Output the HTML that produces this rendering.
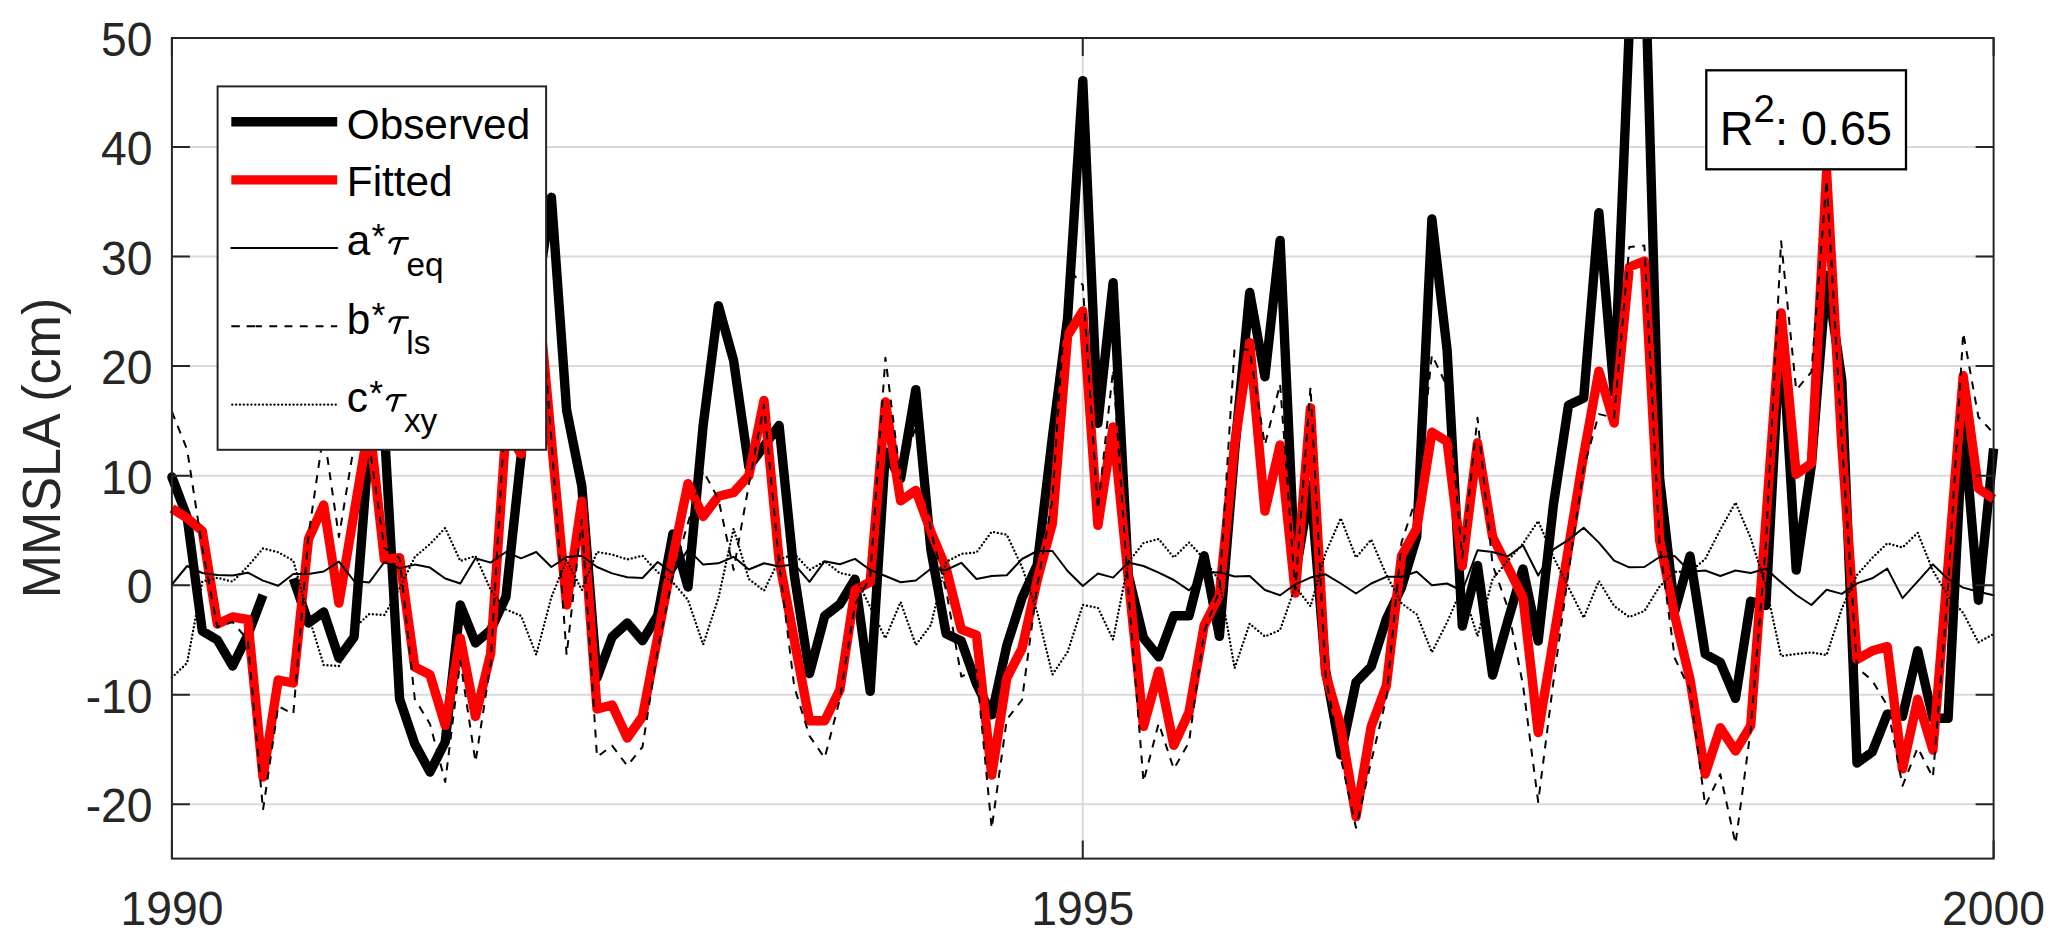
<!DOCTYPE html><html><head><meta charset="utf-8"><style>html,body{margin:0;padding:0;background:#fff;width:2067px;height:949px;overflow:hidden;position:relative}</style></head><body><svg width="2067" height="949" viewBox="0 0 2067 949" style="position:absolute;left:0;top:0"><rect x="0" y="0" width="2067" height="949" fill="#fff"/><path d="M171.9 804.34H1993.6 M171.9 694.77H1993.6 M171.9 585.20H1993.6 M171.9 475.63H1993.6 M171.9 366.06H1993.6 M171.9 256.49H1993.6 M171.9 146.92H1993.6 M1082.75 38.0V858.6" stroke="#dadada" stroke-width="2" fill="none"/><defs><clipPath id="cp"><rect x="163.9" y="38.0" width="1837.6999999999998" height="828.6"/></clipPath></defs><g clip-path="url(#cp)" fill="none" stroke-linejoin="round"><path d="M171.9 477.0 L187.1 517.0 L202.3 631.0 L217.4 640.0 L232.6 666.0 L247.8 635.0 L263.0 595.0 M293.3 578.5 L308.5 623.0 L323.7 612.0 L338.9 658.0 L354.1 637.0 L369.3 440.0 L384.4 430.0 L399.6 699.0 L414.8 744.0 L430.0 772.0 L445.2 742.0 L460.3 605.0 L475.5 643.0 L490.7 630.0 L505.9 597.0 L521.1 456.0 L536.2 300.0 L551.4 197.3 L566.6 410.0 L581.8 486.0 L597.0 678.0 L612.1 637.0 L627.3 623.0 L642.5 640.7 L657.7 615.4 L672.9 534.0 L688.0 587.0 L703.2 425.0 L718.4 305.8 L733.6 360.6 L748.8 466.8 L764.0 446.0 L779.1 425.5 L794.3 575.0 L809.5 673.6 L824.7 616.0 L839.9 604.2 L855.0 579.2 L870.2 691.3 L885.4 452.0 L900.6 478.6 L915.8 389.6 L930.9 550.0 L946.1 633.7 L961.3 641.1 L976.5 683.9 L991.7 714.9 L1006.8 645.5 L1022.0 598.0 L1037.2 565.0 L1052.4 437.0 L1067.6 318.0 L1082.8 80.6 L1097.9 423.3 L1113.1 282.7 L1128.3 575.0 L1143.5 638.0 L1158.7 656.9 L1173.8 615.8 L1189.0 615.8 L1204.2 555.8 L1219.4 636.4 L1234.6 452.0 L1249.7 292.5 L1264.9 376.7 L1280.1 240.5 L1295.3 575.0 L1310.5 485.0 L1325.6 670.0 L1340.8 755.0 L1356.0 682.3 L1371.2 666.5 L1386.4 619.0 L1401.5 587.4 L1416.7 537.0 L1431.9 219.0 L1447.1 350.0 L1462.3 626.0 L1477.5 565.5 L1492.6 675.0 L1507.8 621.0 L1523.0 568.9 L1538.2 641.0 L1553.4 505.0 L1568.5 405.2 L1583.7 398.0 L1598.9 212.8 L1614.1 392.6 L1629.3 28.0 L1644.4 -60.0 L1659.6 478.0 L1674.8 611.0 L1690.0 556.0 L1705.2 654.0 L1720.3 662.4 L1735.5 698.3 L1750.7 601.3 L1765.9 605.5 L1781.1 320.0 L1796.2 570.0 L1811.4 465.2 L1826.6 275.4 L1841.8 380.0 L1857.0 763.0 L1872.2 752.0 L1887.3 714.1 L1902.5 716.2 L1917.7 650.8 L1932.9 718.3 L1948.1 718.3 L1963.2 420.0 L1978.4 600.2 L1993.6 448.5" stroke="#000" stroke-width="9.4" stroke-linecap="butt"/><circle cx="171.9" cy="477" r="4.7" fill="#000"/><path d="M171.9 508.5 L187.1 518.0 L202.3 531.0 L217.4 624.0 L232.6 617.0 L247.8 619.5 L263.0 777.0 L278.2 680.0 L293.3 683.0 L308.5 539.0 L323.7 505.0 L338.9 603.0 L354.1 513.0 L369.3 423.0 L384.4 559.6 L399.6 557.7 L414.8 667.0 L430.0 674.8 L445.2 725.4 L460.3 638.2 L475.5 716.5 L490.7 653.3 L505.9 430.0 L521.1 454.0 L536.2 275.0 L551.4 440.0 L566.6 605.0 L581.8 501.4 L597.0 709.0 L612.1 705.0 L627.3 738.0 L642.5 716.5 L657.7 637.0 L672.9 557.0 L688.0 483.7 L703.2 516.5 L718.4 496.3 L733.6 492.5 L748.8 475.7 L764.0 400.5 L779.1 560.0 L794.3 640.0 L809.5 720.8 L824.7 720.8 L839.9 689.8 L855.0 590.0 L870.2 582.0 L885.4 402.0 L900.6 500.8 L915.8 490.4 L930.9 531.7 L946.1 568.0 L961.3 629.3 L976.5 635.2 L991.7 775.0 L1006.8 678.0 L1022.0 648.5 L1037.2 580.0 L1052.4 523.3 L1067.6 335.5 L1082.8 311.0 L1097.9 525.4 L1113.1 426.9 L1128.3 578.0 L1143.5 726.4 L1158.7 671.1 L1173.8 745.4 L1189.0 712.2 L1204.2 625.3 L1219.4 595.3 L1234.6 444.8 L1249.7 342.7 L1264.9 511.1 L1280.1 445.0 L1295.3 593.0 L1310.5 408.0 L1325.6 674.0 L1340.8 726.6 L1356.0 816.7 L1371.2 726.6 L1386.4 685.5 L1401.5 556.0 L1416.7 528.4 L1431.9 432.2 L1447.1 441.4 L1462.3 566.0 L1477.5 442.8 L1492.6 537.0 L1507.8 567.0 L1523.0 597.5 L1538.2 732.5 L1553.4 640.0 L1568.5 548.0 L1583.7 455.0 L1598.9 371.1 L1614.1 423.0 L1629.3 267.0 L1644.4 261.0 L1659.6 540.0 L1674.8 616.0 L1690.0 679.3 L1705.2 774.0 L1720.3 727.8 L1735.5 751.0 L1750.7 725.7 L1765.9 520.0 L1781.1 312.9 L1796.2 474.2 L1811.4 463.4 L1826.6 172.0 L1841.8 445.0 L1857.0 659.3 L1872.2 650.8 L1887.3 646.6 L1902.5 768.9 L1917.7 699.3 L1932.9 750.0 L1948.1 565.0 L1963.2 375.8 L1978.4 488.5 L1993.6 499.0" stroke="#f00" stroke-width="9.4" stroke-linecap="butt"/><path d="M171.9 584.5 L187.1 566.0 L202.3 573.0 L217.4 575.0 L232.6 575.5 L247.8 572.7 L263.0 580.6 L278.2 585.8 L293.3 574.0 L308.5 574.0 L323.7 571.5 L338.9 561.6 L354.1 581.0 L369.3 582.4 L384.4 562.0 L399.6 568.4 L414.8 564.6 L430.0 567.6 L445.2 578.5 L460.3 583.5 L475.5 558.3 L490.7 562.6 L505.9 552.0 L521.1 558.3 L536.2 552.0 L551.4 567.0 L566.6 557.0 L581.8 555.7 L597.0 567.0 L612.1 573.4 L627.3 577.2 L642.5 578.0 L657.7 562.0 L672.9 573.4 L688.0 549.4 L703.2 564.6 L718.4 563.3 L733.6 556.8 L748.8 569.5 L764.0 563.3 L779.1 566.5 L794.3 564.2 L809.5 581.9 L824.7 561.2 L839.9 564.2 L855.0 558.9 L870.2 570.0 L885.4 576.0 L900.6 582.2 L915.8 580.5 L930.9 568.7 L946.1 570.0 L961.3 562.8 L976.5 579.0 L991.7 576.1 L1006.8 575.3 L1022.0 559.0 L1037.2 551.0 L1052.4 551.0 L1067.6 571.0 L1082.8 586.0 L1097.9 573.5 L1113.1 577.6 L1128.3 562.5 L1143.5 566.0 L1158.7 572.7 L1173.8 580.0 L1189.0 590.3 L1204.2 573.0 L1219.4 572.3 L1234.6 576.5 L1249.7 576.0 L1264.9 590.0 L1280.1 595.2 L1295.3 584.3 L1310.5 577.6 L1325.6 574.3 L1340.8 583.5 L1356.0 593.5 L1371.2 583.5 L1386.4 576.8 L1401.5 576.8 L1416.7 571.7 L1431.9 585.2 L1447.1 583.5 L1462.3 591.0 L1477.5 550.3 L1492.6 552.0 L1507.8 556.4 L1523.0 545.2 L1538.2 575.5 L1553.4 549.4 L1568.5 539.9 L1583.7 527.7 L1598.9 542.6 L1614.1 560.7 L1629.3 567.3 L1644.4 567.0 L1659.6 557.0 L1674.8 556.1 L1690.0 571.7 L1705.2 570.5 L1720.3 576.0 L1735.5 570.5 L1750.7 573.0 L1765.9 568.8 L1781.1 582.3 L1796.2 595.0 L1811.4 605.0 L1826.6 589.7 L1841.8 593.9 L1857.0 583.4 L1872.2 578.3 L1887.3 568.6 L1902.5 598.1 L1917.7 581.3 L1932.9 564.4 L1948.1 579.2 L1963.2 587.6 L1978.4 591.8 L1993.6 595.2" stroke="#000" stroke-width="2" stroke-linecap="round"/><path d="M171.9 411.6 L187.1 449.5 L202.3 548.0 L217.4 627.0 L232.6 622.0 L247.8 640.0 L263.0 810.0 L278.2 706.0 L293.3 714.0 L308.5 535.0 L323.7 432.0 L338.9 537.0 L354.1 445.0 L369.3 445.0 L384.4 548.0 L399.6 558.0 L414.8 699.0 L430.0 724.0 L445.2 782.0 L460.3 661.0 L475.5 762.0 L490.7 663.0 L505.9 400.0 L521.1 380.0 L536.2 245.0 L551.4 440.0 L566.6 655.0 L581.8 520.0 L597.0 757.0 L612.1 745.6 L627.3 765.8 L642.5 747.0 L657.7 650.0 L672.9 575.0 L688.0 523.0 L703.2 471.0 L718.4 499.0 L733.6 570.0 L748.8 485.0 L764.0 405.0 L779.1 563.0 L794.3 687.0 L809.5 736.0 L824.7 758.0 L839.9 699.0 L855.0 604.2 L870.2 577.7 L885.4 357.7 L900.6 478.6 L915.8 426.0 L930.9 531.0 L946.1 590.0 L961.3 676.5 L976.5 670.0 L991.7 828.4 L1006.8 719.3 L1022.0 700.0 L1037.2 586.0 L1052.4 500.0 L1067.6 268.0 L1082.8 285.0 L1097.9 509.3 L1113.1 369.6 L1128.3 590.0 L1143.5 781.7 L1158.7 723.3 L1173.8 769.0 L1189.0 742.2 L1204.2 631.6 L1219.4 590.6 L1234.6 348.0 L1249.7 350.0 L1264.9 445.0 L1280.1 384.0 L1295.3 590.0 L1310.5 387.0 L1325.6 676.0 L1340.8 758.0 L1356.0 827.8 L1371.2 761.4 L1386.4 698.0 L1401.5 542.3 L1416.7 497.0 L1431.9 355.0 L1447.1 386.5 L1462.3 557.5 L1477.5 417.7 L1492.6 565.0 L1507.8 607.6 L1523.0 685.1 L1538.2 802.0 L1553.4 681.8 L1568.5 572.0 L1583.7 468.0 L1598.9 414.1 L1614.1 417.7 L1629.3 247.0 L1644.4 245.5 L1659.6 545.0 L1674.8 658.2 L1690.0 689.8 L1705.2 805.8 L1720.3 774.2 L1735.5 843.7 L1750.7 729.9 L1765.9 544.3 L1781.1 241.2 L1796.2 390.0 L1811.4 372.0 L1826.6 180.0 L1841.8 440.0 L1857.0 667.7 L1872.2 680.4 L1887.3 705.7 L1902.5 785.8 L1917.7 747.8 L1932.9 777.4 L1948.1 587.6 L1963.2 332.8 L1978.4 417.0 L1993.6 433.2" stroke="#000" stroke-width="2" stroke-dasharray="8 7.4"/><path d="M171.9 677.5 L187.1 663.0 L202.3 581.6 L217.4 577.8 L232.6 581.6 L247.8 566.4 L263.0 548.4 L278.2 552.2 L293.3 560.7 L308.5 615.7 L323.7 665.0 L338.9 666.0 L354.1 628.0 L369.3 614.0 L384.4 615.0 L399.6 588.0 L414.8 557.0 L430.0 544.0 L445.2 528.0 L460.3 561.0 L475.5 556.0 L490.7 590.0 L505.9 609.5 L521.1 615.8 L536.2 654.7 L551.4 597.0 L566.6 560.0 L581.8 590.0 L597.0 552.0 L612.1 554.5 L627.3 559.5 L642.5 555.7 L657.7 572.2 L672.9 582.3 L688.0 600.0 L703.2 644.5 L718.4 598.0 L733.6 528.8 L748.8 579.0 L764.0 590.7 L779.1 559.8 L794.3 553.9 L809.5 570.0 L824.7 561.2 L839.9 573.0 L855.0 576.0 L870.2 607.0 L885.4 638.2 L900.6 602.0 L915.8 645.0 L930.9 625.0 L946.1 562.0 L961.3 553.9 L976.5 552.4 L991.7 531.7 L1006.8 534.7 L1022.0 567.0 L1037.2 612.0 L1052.4 674.5 L1067.6 652.0 L1082.8 605.0 L1097.9 607.8 L1113.1 639.5 L1128.3 562.1 L1143.5 543.0 L1158.7 539.0 L1173.8 557.5 L1189.0 542.5 L1204.2 559.0 L1219.4 581.0 L1234.6 668.0 L1249.7 623.7 L1264.9 636.5 L1280.1 630.0 L1295.3 586.5 L1310.5 606.3 L1325.6 553.0 L1340.8 518.2 L1356.0 557.5 L1371.2 539.6 L1386.4 575.0 L1401.5 603.3 L1416.7 614.3 L1431.9 652.3 L1447.1 622.2 L1462.3 587.4 L1477.5 636.3 L1492.6 579.0 L1507.8 560.7 L1523.0 543.6 L1538.2 521.0 L1553.4 557.0 L1568.5 587.4 L1583.7 617.7 L1598.9 581.0 L1614.1 606.0 L1629.3 617.0 L1644.4 611.0 L1659.6 586.5 L1674.8 571.7 L1690.0 571.7 L1705.2 559.1 L1720.3 529.6 L1735.5 502.5 L1750.7 538.0 L1765.9 586.5 L1781.1 656.1 L1796.2 654.0 L1811.4 652.4 L1826.6 655.0 L1841.8 608.7 L1857.0 574.9 L1872.2 558.0 L1887.3 543.3 L1902.5 547.5 L1917.7 532.8 L1932.9 570.7 L1948.1 596.0 L1963.2 612.9 L1978.4 642.4 L1993.6 634.0" stroke="#000" stroke-width="2.4" stroke-dasharray="0 3.83" stroke-linecap="round"/></g><path d="M171.9 804.34h18M1993.6 804.34h-18M171.9 694.77h18M1993.6 694.77h-18M171.9 585.20h18M1993.6 585.20h-18M171.9 475.63h18M1993.6 475.63h-18M171.9 366.06h18M1993.6 366.06h-18M171.9 256.49h18M1993.6 256.49h-18M171.9 146.92h18M1993.6 146.92h-18M171.9 38.00h18M1993.6 38.00h-18M171.90 858.6v-18M171.90 38.0v18M1082.75 858.6v-18M1082.75 38.0v18M1993.60 858.6v-18M1993.60 38.0v18" stroke="#262626" stroke-width="2" fill="none"/><rect x="171.9" y="38.0" width="1821.70" height="820.60" stroke="#262626" stroke-width="2" fill="none"/><g font-family="Liberation Sans, sans-serif" font-size="46.3" fill="#262626"><text transform="translate(152.6 822.44) scale(1 1.045)" text-anchor="end">-20</text><text transform="translate(152.6 712.87) scale(1 1.045)" text-anchor="end">-10</text><text transform="translate(152.6 603.30) scale(1 1.045)" text-anchor="end">0</text><text transform="translate(152.6 493.73) scale(1 1.045)" text-anchor="end">10</text><text transform="translate(152.6 384.16) scale(1 1.045)" text-anchor="end">20</text><text transform="translate(152.6 274.59) scale(1 1.045)" text-anchor="end">30</text><text transform="translate(152.6 165.02) scale(1 1.045)" text-anchor="end">40</text><text transform="translate(152.6 56.10) scale(1 1.045)" text-anchor="end">50</text><text transform="translate(171.90 924.6) scale(1 1.045)" text-anchor="middle">1990</text><text transform="translate(1082.75 924.6) scale(1 1.045)" text-anchor="middle">1995</text><text transform="translate(1993.60 924.6) scale(1 1.045)" text-anchor="middle">2000</text></g><text transform="translate(60 598.2) rotate(-90) scale(1 1.04)" font-family="Liberation Sans, sans-serif" font-size="52.0" fill="#262626">MMSLA (cm)</text><rect x="217.6" y="86.4" width="328.5" height="363.4" fill="#fff" stroke="#262626" stroke-width="2"/><path d="M231.3 121.8H337.2" stroke="#000" stroke-width="9.4"/><path d="M231.3 179.9H337.2" stroke="#f00" stroke-width="9.4"/><path d="M231.3 248.1H337.2" stroke="#000" stroke-width="2" stroke-linecap="round"/><path d="M231.3 326.3H239.8M246.6 326.3H255M255.6 326.3H261.9M269.3 326.3H277.2M284.5 326.3H292.4M299.8 326.3H307.7M315.6 326.3H323.5M330.9 326.3H337.2" stroke="#000" stroke-width="2"/><path d="M232.3 404.6H337.2" stroke="#000" stroke-width="2.4" stroke-dasharray="0 3.83" stroke-linecap="round"/><text transform="translate(346.80 138.60) scale(1 1.02)" font-family="Liberation Sans, sans-serif" font-size="42.3" fill="#000" >Observed</text><text transform="translate(346.80 196.20) scale(1 1.02)" font-family="Liberation Sans, sans-serif" font-size="42.3" fill="#000" >Fitted</text><text transform="translate(346.80 255.10) scale(1 1.0)" font-family="Liberation Sans, sans-serif" font-size="42.3" fill="#000" >a</text><text transform="translate(371.60 248.10) scale(1 1.0)" font-family="Liberation Sans, sans-serif" font-size="35.5" fill="#000" >*</text><path d="M389.19 243.50C390.39 239.90 392.19 238.35 395.39 238.35L408.79 238.35" stroke="#000" stroke-width="2.6" fill="none"/><path d="M399.89 238.90L394.99 253.50" stroke="#000" stroke-width="2.9" stroke-linecap="round" fill="none"/><text transform="translate(406.40 276.10) scale(1 1.0)" font-family="Liberation Sans, sans-serif" font-size="33.3" fill="#000" >eq</text><text transform="translate(346.80 334.20) scale(1 1.0)" font-family="Liberation Sans, sans-serif" font-size="42.3" fill="#000" >b</text><text transform="translate(371.60 327.20) scale(1 1.0)" font-family="Liberation Sans, sans-serif" font-size="35.5" fill="#000" >*</text><path d="M389.19 322.60C390.39 319.00 392.19 317.45 395.39 317.45L408.79 317.45" stroke="#000" stroke-width="2.6" fill="none"/><path d="M399.89 318.00L394.99 332.60" stroke="#000" stroke-width="2.9" stroke-linecap="round" fill="none"/><text transform="translate(406.30 354.20) scale(1 1.0)" font-family="Liberation Sans, sans-serif" font-size="33.3" fill="#000" >ls</text><text transform="translate(346.80 412.00) scale(1 1.0)" font-family="Liberation Sans, sans-serif" font-size="42.3" fill="#000" >c</text><text transform="translate(369.20 405.00) scale(1 1.0)" font-family="Liberation Sans, sans-serif" font-size="35.5" fill="#000" >*</text><path d="M386.81 400.40C388.01 396.80 389.81 395.25 393.01 395.25L406.41 395.25" stroke="#000" stroke-width="2.6" fill="none"/><path d="M397.51 395.80L392.61 410.40" stroke="#000" stroke-width="2.9" stroke-linecap="round" fill="none"/><text transform="translate(403.90 432.00) scale(1 1.0)" font-family="Liberation Sans, sans-serif" font-size="33.3" fill="#000" >xy</text><rect x="1706.3" y="70.3" width="199.7" height="99" fill="#fff" stroke="#000" stroke-width="2.3"/><text transform="translate(1719.8 145.1) scale(1 1.02)" font-family="Liberation Sans, sans-serif" font-size="46.8" fill="#000">R<tspan font-size="38.5" dy="-22.5">2</tspan><tspan dy="22.5">: 0.65</tspan></text></svg></body></html>
